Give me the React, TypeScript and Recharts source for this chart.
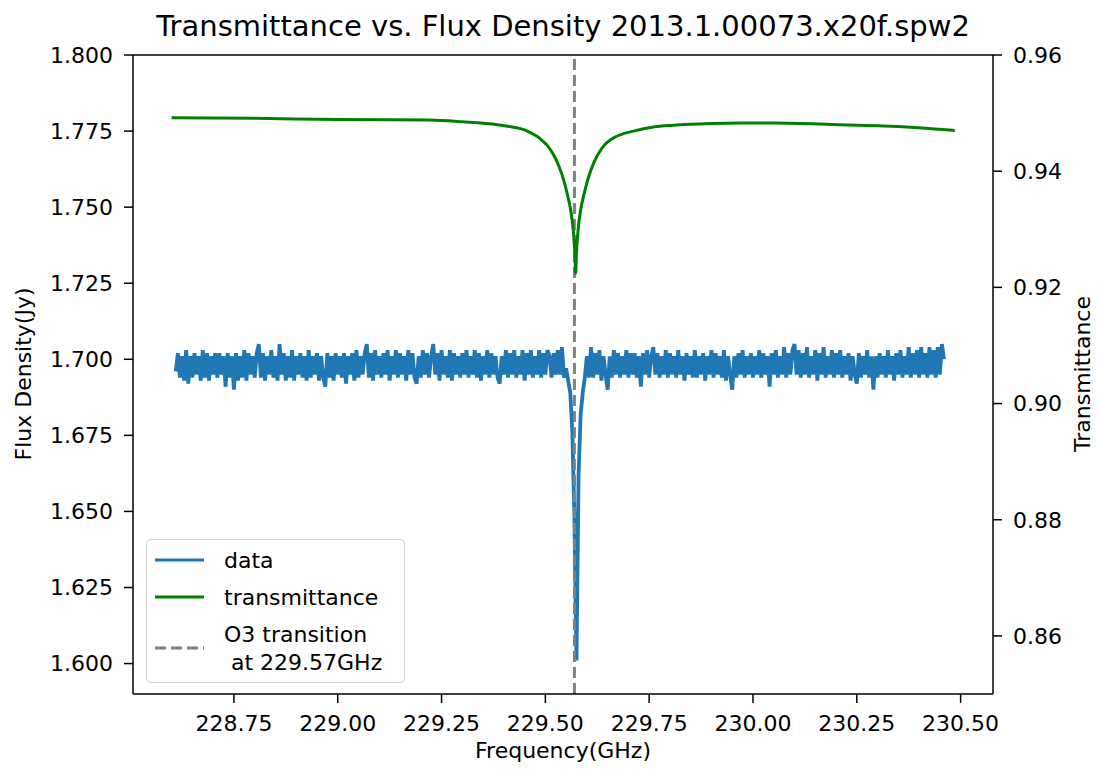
import { LineChart, Line, XAxis, YAxis, ReferenceLine, Legend, Label } from "recharts";

document.body.style.margin = "0";

const FONT = "DejaVu Sans, Verdana, sans-serif";

// spectral window channel grid (GHz)
const FLUX_START_GHZ = 228.61;
const FLUX_STEP_GHZ = 0.005;

// flux density per channel, mJy
const FLUX_MJY = [
  1696, 1702, 1694, 1701, 1693, 1703, 1692, 1701, 1694, 1702, 1695, 1701, 1693, 1703, 1694, 1702, 1693, 1701, 1695, 1702,
  1694, 1702, 1695, 1701, 1691, 1702, 1694, 1701, 1690, 1702, 1693, 1701, 1694, 1703, 1693, 1702, 1695, 1701, 1694, 1702,
  1705, 1694, 1702, 1693, 1701, 1695, 1703, 1694, 1701, 1693, 1705, 1695, 1702, 1693, 1701, 1694, 1703, 1693, 1701, 1695,
  1702, 1694, 1701, 1693, 1703, 1694, 1701, 1695, 1702, 1693, 1701, 1694, 1691, 1702, 1694, 1701, 1693, 1702, 1695, 1701,
  1694, 1702, 1692, 1701, 1695, 1702, 1693, 1703, 1694, 1701, 1695, 1702, 1705, 1694, 1702, 1693, 1703, 1695, 1701, 1694,
  1702, 1695, 1703, 1693, 1701, 1695, 1703, 1694, 1702, 1695, 1701, 1693, 1703, 1695, 1702, 1694, 1692, 1701, 1694, 1703,
  1695, 1702, 1694, 1701, 1705, 1695, 1702, 1693, 1703, 1695, 1701, 1694, 1703, 1693, 1702, 1695, 1701, 1694, 1702, 1695,
  1703, 1694, 1701, 1695, 1703, 1694, 1702, 1693, 1701, 1695, 1703, 1694, 1702, 1695, 1701, 1694, 1692, 1701, 1695, 1703,
  1694, 1702, 1695, 1703, 1694, 1701, 1695, 1703, 1693, 1702, 1695, 1703, 1694, 1701, 1695, 1703, 1694, 1702, 1695, 1703,
  1701, 1694, 1702, 1695, 1703, 1695, 1704, 1694, 1697, 1693, 1689, 1676, 1648, 1601, 1662, 1682, 1689, 1694, 1701, 1694,
  1704, 1694, 1702, 1695, 1703, 1693, 1701, 1695, 1690, 1701, 1694, 1703, 1695, 1702, 1694, 1701, 1695, 1703, 1694, 1702,
  1695, 1702, 1694, 1701, 1691, 1702, 1695, 1703, 1694, 1701, 1704, 1695, 1702, 1694, 1701, 1695, 1703, 1694, 1702, 1695,
  1701, 1694, 1703, 1695, 1701, 1693, 1702, 1695, 1701, 1694, 1703, 1694, 1701, 1695, 1702, 1693, 1701, 1695, 1703, 1694,
  1702, 1695, 1701, 1694, 1703, 1693, 1701, 1695, 1690, 1701, 1694, 1702, 1695, 1703, 1694, 1701, 1695, 1702, 1694, 1701,
  1695, 1703, 1694, 1702, 1695, 1701, 1691, 1702, 1695, 1703, 1694, 1701, 1695, 1704, 1694, 1702, 1695, 1703, 1705, 1695,
  1703, 1694, 1702, 1695, 1704, 1694, 1701, 1695, 1703, 1693, 1702, 1695, 1704, 1694, 1701, 1695, 1703, 1694, 1702, 1695,
  1703, 1694, 1701, 1695, 1702, 1693, 1701, 1695, 1692, 1702, 1694, 1701, 1695, 1703, 1694, 1701, 1690, 1701, 1694, 1702,
  1695, 1701, 1694, 1703, 1695, 1701, 1693, 1702, 1695, 1703, 1694, 1701, 1695, 1704, 1694, 1702, 1695, 1703, 1694, 1704,
  1695, 1702, 1694, 1704, 1695, 1703, 1694, 1704, 1695, 1705, 1700,
];

const TRANS_FREQ = [
  228.6, 228.8, 229.0, 229.22, 229.3, 229.385, 229.42, 229.45, 229.465, 229.48,
  229.495, 229.505, 229.513, 229.523, 229.533, 229.544, 229.553, 229.561, 229.567, 229.571,
  229.573, 229.575, 229.579, 229.585, 229.593, 229.602, 229.613, 229.623, 229.633, 229.641,
  229.651, 229.666, 229.69, 229.712, 229.76, 229.808, 229.9, 229.969, 230.05, 230.209,
  230.3, 230.37, 230.43, 230.486,
];
const TRANS_VALUES = [
  0.9492, 0.9491, 0.9489, 0.9488, 0.9485, 0.948, 0.9476, 0.9471, 0.9466, 0.946,
  0.9451, 0.9444, 0.9436, 0.9424, 0.9408, 0.9385, 0.936, 0.9333, 0.93, 0.926,
  0.9224, 0.926, 0.93, 0.9333, 0.936, 0.9385, 0.9408, 0.9424, 0.9436, 0.9444,
  0.9451, 0.9458, 0.9465, 0.9469, 0.9476, 0.9479, 0.9482, 0.9483, 0.9483, 0.948,
  0.9478, 0.9476, 0.9473, 0.947,
];

const O3_LINE_GHZ = 229.57;

const X_TICKS = [228.75, 229.0, 229.25, 229.5, 229.75, 230.0, 230.25, 230.5];
const FLUX_TICKS = [1.6, 1.625, 1.65, 1.675, 1.7, 1.725, 1.75, 1.775, 1.8];
const TRANS_TICKS = [0.86, 0.88, 0.9, 0.92, 0.94, 0.96];

const fluxData = FLUX_MJY.map((v, i) => ({
  freq: +(FLUX_START_GHZ + i * FLUX_STEP_GHZ).toFixed(3),
  flux: v / 1000,
}));
const transData = TRANS_FREQ.map((f, i) => ({ freq: f, trans: TRANS_VALUES[i] }));

const tickStyle = { fill: "#000", fontSize: 22, fontFamily: FONT };

function LegendBox() {
  const rows = [
    { y: 20, color: "#1f77b4", dash: undefined, label: ["data"] },
    { y: 57, color: "#008000", dash: undefined, label: ["transmittance"] },
    { y: 108, color: "#808080", dash: "11 5", label: ["O3 transition", " at 229.57GHz"] },
  ];
  return (
    <div
      style={{
        position: "relative",
        width: 257,
        height: 142,
        border: "1px solid #d0d0d0",
        borderRadius: 5,
        background: "rgba(255,255,255,0.8)",
        fontFamily: FONT,
        fontSize: 22,
        color: "#000",
      }}
    >
      <svg width={257} height={142} style={{ position: "absolute", left: 0, top: 0 }}>
        {rows.map((r) => (
          <line key={r.y} x1={8} x2={57} y1={r.y} y2={r.y} stroke={r.color} strokeWidth={3} strokeDasharray={r.dash} />
        ))}
        {rows.map((r) =>
          r.label.map((t, j) => (
            <text
              key={r.y + t}
              x={77}
              y={r.label.length > 1 ? r.y - 14 + j * 28 : r.y}
              dominantBaseline="central"
              fontSize={22}
              fontFamily={FONT}
              xmlSpace="preserve"
            >
              {t}
            </text>
          ))
        )}
      </svg>
    </div>
  );
}

export default function App() {
  return (
    <div style={{ position: "relative", width: 1099, height: 770, background: "#fff" }}>
      <div
        style={{
          position: "absolute",
          left: 133,
          width: 860,
          top: 9,
          textAlign: "center",
          fontFamily: FONT,
          fontSize: 29,
          color: "#000",
          whiteSpace: "nowrap",
        }}
      >
        Transmittance vs. Flux Density 2013.1.00073.x20f.spw2
      </div>
      <LineChart width={1099} height={770} margin={{ top: 55, right: 0, bottom: 0, left: 0 }}>
        <XAxis
          dataKey="freq"
          type="number"
          domain={[228.507, 230.578]}
          allowDataOverflow
          ticks={X_TICKS}
          tickFormatter={(v: number) => v.toFixed(2)}
          tick={tickStyle}
          tickSize={9}
          tickMargin={12}
          height={76}
          stroke="#000"
          strokeWidth={1.5}
        >
          <Label
            value="Frequency(GHz)"
            position="insideBottom"
            offset={12}
            style={{ fill: "#000", fontSize: 22, fontFamily: FONT }}
          />
        </XAxis>
        <YAxis
          yAxisId="left"
          type="number"
          domain={[1.59, 1.8]}
          allowDataOverflow
          ticks={FLUX_TICKS}
          tickFormatter={(v: number) => v.toFixed(3)}
          tick={tickStyle}
          tickSize={9}
          tickMargin={11}
          width={133}
          stroke="#000"
          strokeWidth={1.5}
        >
          <Label
            content={() => (
              <text
                x={23}
                y={374}
                transform="rotate(-90 23 374)"
                textAnchor="middle"
                dominantBaseline="central"
                fontSize={22}
                fontFamily={FONT}
                fill="#000"
              >
                Flux Density(Jy)
              </text>
            )}
          />
        </YAxis>
        <YAxis
          yAxisId="right"
          orientation="right"
          type="number"
          domain={[0.85, 0.96]}
          allowDataOverflow
          ticks={TRANS_TICKS}
          tickFormatter={(v: number) => v.toFixed(2)}
          tick={tickStyle}
          tickSize={9}
          tickMargin={11}
          width={106}
          stroke="#000"
          strokeWidth={1.5}
        >
          <Label
            content={() => (
              <text
                x={1082}
                y={374}
                transform="rotate(-90 1082 374)"
                textAnchor="middle"
                dominantBaseline="central"
                fontSize={22}
                fontFamily={FONT}
                fill="#000"
              >
                Transmittance
              </text>
            )}
          />
        </YAxis>
        <ReferenceLine yAxisId="left" y={1.8} stroke="#000" strokeWidth={1.5} />
        <Line
          yAxisId="left"
          data={fluxData}
          dataKey="flux"
          type="linear"
          stroke="#1f77b4"
          strokeWidth={3.8}
          dot={false}
          isAnimationActive={false}
        />
        <ReferenceLine
          yAxisId="left"
          x={O3_LINE_GHZ}
          stroke="#808080"
          strokeWidth={3}
          strokeDasharray="11 5"
        />
        <Line
          yAxisId="right"
          data={transData}
          dataKey="trans"
          type="monotone"
          stroke="#008000"
          strokeWidth={3}
          dot={false}
          isAnimationActive={false}
        />
        <Legend
          layout="vertical"
          align="center"
          verticalAlign="middle"
          content={() => <LegendBox />}
          wrapperStyle={{ left: 146, top: 539, width: 259, height: 144 }}
        />
      </LineChart>
    </div>
  );
}
